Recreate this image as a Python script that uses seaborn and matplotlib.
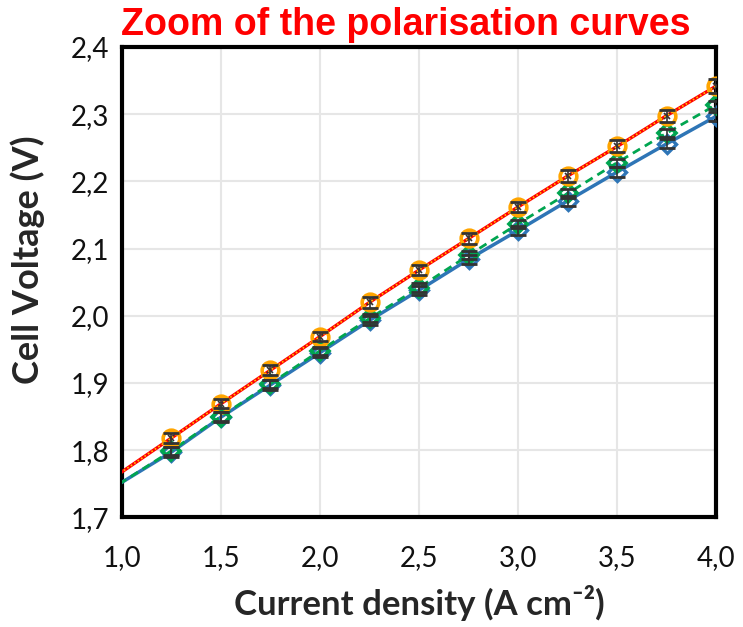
import matplotlib
matplotlib.use("Agg")
import matplotlib.pyplot as plt
import matplotlib.ticker as mticker
import seaborn as sns
import pandas as pd

current = [0.75, 1.25, 1.5, 1.75, 2.0, 2.25, 2.5, 2.75, 3.0, 3.25, 3.5, 3.75, 4.0]
v_red = [1.717, 1.818, 1.869, 1.919, 1.969, 2.020, 2.068, 2.115, 2.162, 2.208, 2.252, 2.298, 2.342]
v_orange = [1.717, 1.818, 1.869, 1.919, 1.969, 2.020, 2.068, 2.115, 2.162, 2.208, 2.252, 2.298, 2.342]
v_green = [1.705, 1.799, 1.850, 1.899, 1.948, 1.996, 2.042, 2.090, 2.137, 2.182, 2.228, 2.272, 2.314]
v_blue = [1.707, 1.797, 1.849, 1.897, 1.945, 1.993, 2.038, 2.084, 2.127, 2.171, 2.214, 2.256, 2.297]
err_orange = [0.007, 0.007, 0.007, 0.007, 0.007, 0.008, 0.008, 0.008, 0.008, 0.009, 0.009, 0.009, 0.010]
err_green = [0.006] * 13
err_blue = [0.007] * 13

x_ticks = [1.0, 1.5, 2.0, 2.5, 3.0, 3.5, 4.0]
y_ticks = [1.7, 1.8, 1.9, 2.0, 2.1, 2.2, 2.3, 2.4]

sns.set_style("white")
plt.rcParams["font.family"] = ["Lato", "DejaVu Sans"]

fig = plt.figure(figsize=(7.43, 6.27), dpi=100)
ax = fig.add_axes([0.164, 0.175, 0.800, 0.750])

df = pd.DataFrame({"x": current, "red": v_red, "orange": v_orange,
                   "green": v_green, "blue": v_blue})

sns.lineplot(data=df, x="x", y="blue", ax=ax, color="#2e75b6", lw=2.5,
             marker="D", markersize=9, markerfacecolor="none",
             markeredgecolor="#2e75b6", markeredgewidth=2.4, zorder=3)
sns.lineplot(data=df, x="x", y="green", ax=ax, color="#00a550", lw=2,
             linestyle=(0, (3, 2)), marker="D", markersize=9,
             markerfacecolor="none", markeredgecolor="#00a550",
             markeredgewidth=2.6, zorder=4)
sns.lineplot(data=df, x="x", y="red", ax=ax, color="#ff0000", lw=2.4,
             marker="x", markersize=4, markeredgecolor="#333333",
             markeredgewidth=1.2, zorder=5)
sns.lineplot(data=df, x="x", y="orange", ax=ax, color="#ffc000", lw=1.2,
             linestyle=(0, (1, 1.5)), marker="o", markersize=12,
             markerfacecolor="none", markeredgecolor="#ffa500",
             markeredgewidth=2.6, zorder=6)

for yv, err in [(v_blue, err_blue), (v_green, err_green), (v_orange, err_orange)]:
    ax.errorbar(current, yv, yerr=err, fmt="none", ecolor="#333333",
                elinewidth=1.2, capsize=6, capthick=2.0, zorder=7)

ax.set_xlim(1.0, 4.0)
ax.set_ylim(1.7, 2.4)
ax.set_xticks(x_ticks)
ax.set_yticks(y_ticks)
fmt = mticker.FuncFormatter(lambda v, p: f"{v:.1f}".replace(".", ","))
ax.xaxis.set_major_formatter(fmt)
ax.yaxis.set_major_formatter(fmt)
ax.grid(True, color="#e6e6e6", lw=1.5, zorder=0)
ax.set_axisbelow(True)
for s in ax.spines.values():
    s.set_color("black")
    s.set_linewidth(3)
ax.tick_params(axis="both", direction="in", length=8, width=2.5,
               colors="black", labelsize=20, labelcolor="#111111")
ax.tick_params(axis="x", pad=20)
ax.tick_params(axis="y", pad=9)

ax.set_xlabel("Current density (A cm\u207b\u00b2)", fontsize=25,
              fontweight="bold", labelpad=10)
ax.set_ylabel("Cell Voltage (V)", fontsize=26, fontweight="bold")
ax.yaxis.set_label_coords(-0.13, 0.548)
ax.text(0.478, 1.0255, "Zoom of the polarisation curves", transform=ax.transAxes,
        ha="center", va="baseline", fontsize=27, fontweight="bold",
        color="#ff0000", family=["Liberation Sans", "DejaVu Sans"])

fig.savefig("out.png", dpi=100)
